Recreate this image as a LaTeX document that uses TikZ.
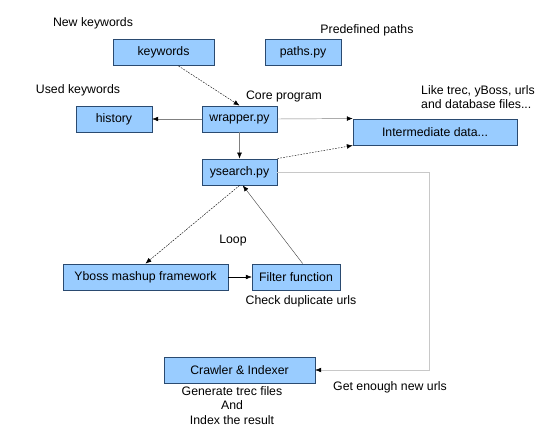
\documentclass[tikz,border=0pt]{standalone}
\usepackage{fontspec}
\setmainfont{Liberation Sans}
\usepackage{xcolor}
\usepackage{tikz}
\usetikzlibrary{arrows.meta, positioning}

\definecolor{boxfill}{HTML}{99CCFF}
\definecolor{boxline}{HTML}{2A4A70}
\definecolor{lightline}{HTML}{C8C8C8}

\begin{document}
\begin{tikzpicture}[
        x=0.03cm, y=-0.03cm,
        font=\fontsize{10.5}{12.5}\selectfont,
        box/.style={rectangle, draw=boxline, fill=boxfill, line width=0.5pt, minimum height=0.79cm, inner sep=0pt, align=center},
        note/.style={align=center, inner sep=0pt},
        arrow/.style={-{Latex[length=5pt,width=4pt,black]}, draw=gray, line width=0.4pt},
        dasharrow/.style={-{Latex[length=5pt,width=4pt,black]}, dash pattern=on 1.5pt off 1pt, line width=0.35pt}
    ]
        \useasboundingbox (0,0) rectangle (556,437);

        % Nodes
        \node[box, minimum width=3.03cm] (keywords) at (163.5,52.5) {keywords};
        \node[box, minimum width=2.28cm] (paths) at (303,52.5) {paths.py};
        \node[box, minimum width=2.28cm] (history) at (114,119) {history};
        \node[box, minimum width=2.25cm] (wrapper) at (239.5,119) {wrapper.py};
        \node[box, minimum width=2.25cm] (ysearch) at (239.5,172) {ysearch.py};
        \node[box, minimum width=4.92cm] (inter) at (435,132) {Intermediate data...};
        \node[box, minimum width=4.95cm] (yboss) at (145.5,277) {Yboss mashup framework};
        \node[box, minimum width=2.64cm] (filter) at (296,277) {Filter function};
        \node[box, minimum width=4.53cm] (crawler) at (239.5,370) {Crawler \& Indexer};
        \coordinate (turn) at (429,172);

        % Labels
        \node[note] (newkw) at (93,23) {New keywords};
        \node[note] (predef) at (367,30) {Predefined paths};
        \node[note] (usedkw) at (78,90) {Used keywords};
        \node[note] (core) at (284,96) {Core program};
        \node[note, align=left, anchor=west] (like) at (421,97) {Like trec, yBoss, urls\\and database files...};
        \node[note] (loop) at (233,241) {Loop};
        \node[note] (check) at (301,301) {Check duplicate urls};
        \node[note] (enough) at (390,387) {Get enough new urls};
        \node[note, anchor=north] (gen) at (232,386) {Generate trec files\\And\\Index the result};

        % Arrows
        \draw[dasharrow] ([xshift=0.45cm]keywords.south) -- (wrapper.north);
        \draw[arrow] (wrapper.west) -- (history.east);
        \draw[arrow] (wrapper.south) -- (ysearch.north);
        \draw[arrow] (wrapper.east) -- (inter.north west);
        \draw[dasharrow] (ysearch.north east) -- (inter.south west);
        \draw[dasharrow] (ysearch.south) -- (yboss.north);
        \draw[arrow, draw=black!75, line width=0.35pt] ([xshift=0.2cm]filter.north) -- ([xshift=0.1cm]ysearch.south);
        \draw[arrow, draw=black] (yboss.east) -- (filter.west);
        \draw[arrow, draw=lightline] (ysearch.east) -- (turn) |- (crawler.east);
    \end{tikzpicture}
\end{document}
